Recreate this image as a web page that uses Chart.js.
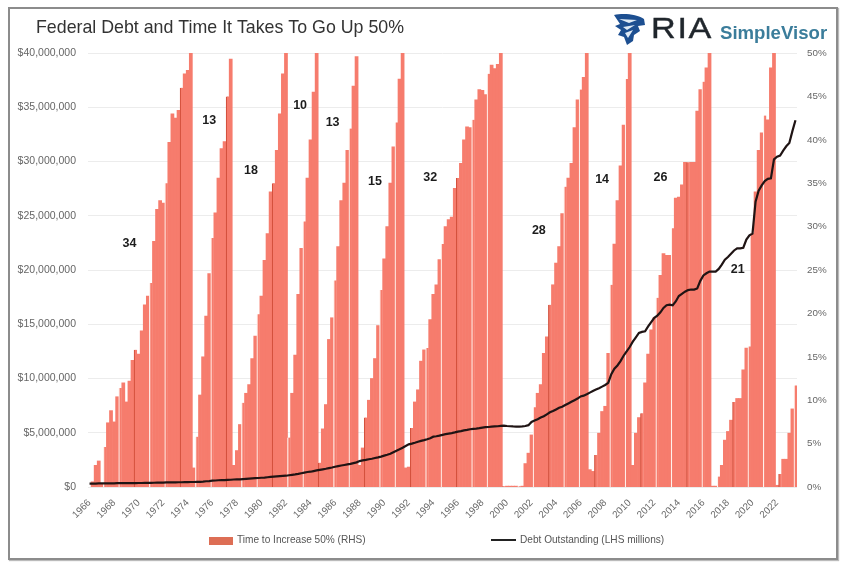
<!DOCTYPE html>
<html>
<head>
<meta charset="utf-8">
<title>Federal Debt and Time It Takes To Go Up 50%</title>
<script src="https://cdn.jsdelivr.net/npm/chart.js@4"></script>
<style>
  html, body { margin: 0; padding: 0; background: #fff; }
  #wrap { position: relative; width: 848px; height: 571px; overflow: hidden; font-family: "Liberation Sans", Arial, sans-serif; filter: blur(0.45px); }
  #frame { position: absolute; left: 8px; top: 7px; width: 826px; height: 549px; border: 2px solid #8c8c8c; box-shadow: 1px 1px 1px #bbb; }
  canvas { position: absolute; left: 0; top: 0; }
  .abs { position: absolute; white-space: nowrap; }
  #ria { left: 651px; top: 10px; font-size: 30px; line-height: 36px; color: #20262c; letter-spacing: 1.5px; -webkit-text-stroke: 0.4px #20262c; transform: scaleX(1.14); transform-origin: left center; }
  #simple { left: 720px; top: 22px; font-size: 18.6px; line-height: 22px; font-weight: bold; color: #3b7d9b; }
  .legendText { font-size: 10.1px; color: #555; line-height: 12px; }
</style>
</head>
<body>
<div id="wrap">
  <div id="frame"></div>
  <canvas id="debtChart" width="848" height="571"></canvas>
  <svg class="abs" style="left:613px;top:13px" width="33" height="33" viewBox="0 0 33 33">
    <path d="M1 2 C10 0 24 1 31 6 L32 12 L25 13 L27 18 L21 22 L20 28 L14 32 L11 24 L5 22 L8 17 L2 13 L7 11 Z" fill="#1d4f91"/>
    <path d="M6 6 L24 7 L16 10 Z M10 14 L22 12 L14 17 Z M12 20 L20 17 L15 25 Z" fill="#dfeaf5"/>
  </svg>
  <div class="abs" id="ria">RIA</div>
  <div class="abs" id="simple">SimpleVisor</div>
  <div class="abs" style="left:209px;top:537px;width:24px;height:8px;background:#dd6e55"></div>
  <div class="abs legendText" id="legendBar" style="left:237px;top:534px"></div>
  <div class="abs" style="left:491px;top:539px;width:25px;height:2px;background:#222"></div>
  <div class="abs legendText" id="legendLine" style="left:520px;top:534px"></div>
</div>
<script>
const chartTitle = "Federal Debt and Time It Takes To Go Up 50%";
const barName = "Time to Increase 50% (RHS)";
const lineName = "Debt Outstanding (LHS millions)";

// one tick label every 8 quarters
const yearTicks = ["1966", "1968", "1970", "1972", "1974", "1976", "1978", "1980", "1982", "1984",
  "1986", "1988", "1990", "1992", "1994", "1996", "1998", "2000", "2002", "2004",
  "2006", "2008", "2010", "2012", "2014", "2016", "2018", "2020", "2022"];

// % the debt has risen since the cycle started, quarterly
const timeToIncrease = [
  // 34
  0, 0.6, 2.5, 3, 0.4, 4.6, 7.4, 8.8, 7.5, 10.4, 11.4, 12, 9.8, 12.2, 14.6, 15.8, 15.3, 18,
  21, 22, 23.5, 28.3, 32, 33, 32.7, 35, 39.7, 43, 42.5, 43.4, 46, 47.6, 48, 50,
  // 13
  2.2, 5.8, 10.6, 15, 19.7, 24.6, 28.7, 31.6, 35.6, 39, 39.8, 45, 49.3,
  // 18
  2.5, 4.2, 7.2, 9.7, 10.8, 11.8, 14.8, 17.4, 19.9, 22, 26.1, 29.2, 34, 35, 38.8, 43, 47.6, 50,
  // 10
  5.7, 10.8, 15.2, 22.2, 27.5, 30.6, 35.6, 40, 45.5, 50,
  // 13
  2.8, 6.7, 9.5, 17, 19.5, 23.8, 27.7, 33, 35, 38.8, 41.3, 46.2, 49.6,
  // 15
  2.5, 4.5, 8, 10, 12.5, 14.8, 18.6, 22.7, 26.3, 30, 35, 39.2, 42, 47, 50,
  // 32
  2.2, 2.3, 6.8, 9.8, 11.2, 14.5, 15.8, 16, 19.3, 22.2, 23.3, 26.2, 28, 30, 30.8, 31.1,
  34.4, 35.6, 37.3, 40, 41.5, 41.4, 42.3, 44.6, 45.8, 45.7, 45.2, 47.6, 48.6, 48.2, 48.7, 50,
  // 28
  0.1, 0.1, 0.1, 0.1, 0.1, 0.1, 0.1, 2.7, 3.9, 6, 9.2, 10.8, 11.8, 15.4, 17.3, 21, 23.3, 25.8,
  27.7, 31.5, 34.6, 35.6, 37.3, 41.4, 44.6, 45.8, 47.2, 50,
  // 14
  2, 1.8, 3.7, 6.2, 8.7, 9.3, 15.4, 23.3, 28, 33, 37, 41.7, 47, 50,
  // 26
  2.5, 6.2, 8, 8.5, 12, 15.3, 18.1, 19.5, 21.8, 24.4, 26.9, 26.7, 26.7, 29.8, 33.3, 33.4,
  34.8, 37.4, 37.4, 37.4, 37.4, 43.3, 45.8, 46.7, 48.3, 50,
  // 21
  0.1, 0.1, 1.2, 2.5, 5.4, 6.4, 7.7, 9.8, 10.2, 10.2, 13.5, 16, 16.2, 29.2, 34, 38.8, 40.8,
  42.8, 42.3, 48.3, 50,
  // current run
  0.2, 1.5, 3.2, 3.2, 6.2, 9, 11.7
];

// debt outstanding in $ millions, one row per two years
const debtOutstanding = [
  320000, 320000, 320000, 330000, 330000, 330000, 330000, 340000,
  340000, 350000, 350000, 350000, 350000, 360000, 360000, 360000,
  370000, 370000, 380000, 380000, 380000, 390000, 400000, 400000,
  410000, 420000, 420000, 430000, 430000, 440000, 440000, 450000,
  450000, 460000, 460000, 470000, 480000, 500000, 530000, 550000,
  580000, 600000, 620000, 630000, 640000, 660000, 670000, 690000,
  700000, 710000, 730000, 750000, 770000, 790000, 810000, 830000,
  850000, 870000, 900000, 930000, 960000, 980000, 1000000, 1020000,
  1040000, 1080000, 1120000, 1160000, 1210000, 1270000, 1330000, 1380000,
  1410000, 1470000, 1530000, 1580000, 1630000, 1680000, 1740000, 1800000,
  1870000, 1930000, 1980000, 2030000, 2080000, 2130000, 2200000, 2270000,
  2390000, 2450000, 2500000, 2560000, 2600000, 2670000, 2730000, 2800000,
  2890000, 2970000, 3070000, 3210000, 3350000, 3480000, 3620000, 3780000,
  3930000, 4000000, 4080000, 4170000, 4250000, 4320000, 4400000, 4500000,
  4640000, 4680000, 4740000, 4810000, 4870000, 4920000, 4970000, 5030000,
  5100000, 5150000, 5220000, 5260000, 5320000, 5350000, 5380000, 5420000,
  5470000, 5520000, 5530000, 5560000, 5580000, 5600000, 5630000, 5660000,
  5620000, 5600000, 5580000, 5570000, 5560000, 5580000, 5620000, 5700000,
  6000000, 6130000, 6250000, 6400000, 6520000, 6700000, 6880000, 7000000,
  7150000, 7300000, 7400000, 7550000, 7700000, 7850000, 8000000, 8150000,
  8350000, 8420000, 8550000, 8700000, 8850000, 8980000, 9100000, 9250000,
  9400000, 9600000, 10400000, 10900000, 11200000, 11600000, 12100000, 12500000,
  12900000, 13400000, 13800000, 14200000, 14300000, 14350000, 14800000, 15200000,
  15600000, 15800000, 16100000, 16500000, 16750000, 16800000, 16750000, 17100000,
  17600000, 17800000, 18000000, 18150000, 18200000, 18200000, 18300000, 19000000,
  19500000, 19700000, 19850000, 19850000, 19850000, 20100000, 20500000, 20950000,
  21200000, 21500000, 21800000, 22000000, 22000000, 22050000, 22800000, 23200000,
  23350000, 26300000, 27300000, 27800000, 28200000, 28400000, 28450000, 30200000,
  30450000, 30550000, 31000000, 31400000, 31700000, 32800000, 33800000
];

// numbers written over each cycle: how many quarters it took
const cycleLabels = ["34", "13", "18", "10", "13", "15", "32", "28", "14", "26", "21"];
const cycleLabelQuarter = [13, 39, 52.6, 68.6, 79.2, 93, 111, 146.4, 167, 186, 211.2];
const cycleLabelPct = [28.1, 42.2, 36.5, 44, 42, 35.2, 35.7, 29.6, 35.4, 35.7, 25];

const quarters = timeToIncrease.map((v, i) => (i % 8 === 0 ? yearTicks[i / 8] : ""));

const fontFamily = "'Liberation Sans', Arial, sans-serif";

const cycleLabelPlugin = {
  id: "cycleLabels",
  afterDatasetsDraw(chart) {
    const ctx = chart.ctx;
    const xs = chart.scales.x;
    const ys = chart.scales.y1;
    ctx.save();
    ctx.font = "bold 12.5px " + fontFamily;
    ctx.fillStyle = "#1c1c1c";
    ctx.textAlign = "center";
    ctx.textBaseline = "middle";
    cycleLabels.forEach((text, i) => {
      ctx.fillText(text, xs.getPixelForValue(cycleLabelQuarter[i]), ys.getPixelForValue(cycleLabelPct[i]));
    });
    // title sits left of the plot, over the y tick labels
    ctx.font = "17.8px " + fontFamily;
    ctx.fillStyle = "#333";
    ctx.textAlign = "left";
    ctx.fillText(chartTitle, 36, 28);
    ctx.restore();
  },
};

const config = {
  data: {
    labels: quarters,
    datasets: [
      {
        type: "line",
        label: lineName,
        data: debtOutstanding,
        yAxisID: "y",
        borderColor: "#1f1414",
        borderWidth: 2.2,
        pointRadius: 0,
        tension: 0,
        order: 0,
      },
      {
        type: "bar",
        label: barName,
        data: timeToIncrease,
        yAxisID: "y1",
        backgroundColor: "rgb(246, 124, 109)",
        // the source image shows a thin seam about every 5th bar
        borderColor: (c) => (c.dataIndex % 15 === 0 ? "#d4513d" : "#fff1ec"),
        borderWidth: (c) => (c.dataIndex % 5 === 0 ? { left: 1.2 } : 0),
        borderSkipped: false,
        barPercentage: 1,
        categoryPercentage: 1,
        order: 1,
      },
    ],
  },
  options: {
    responsive: false,
    animation: false,
    layout: { padding: { left: 0, right: 0, top: 53, bottom: 0 } },
    plugins: {
      legend: { display: false },
      tooltip: { enabled: false },
    },
    scales: {
      x: {
        grid: { display: false },
        border: { display: false },
        ticks: {
          autoSkip: false,
          maxRotation: 45,
          minRotation: 45,
          padding: 2,
          color: "#666",
          font: { family: fontFamily, size: 9.8 },
        },
        afterFit: (scale) => { scale.height = 84; },
      },
      y: {
        position: "left",
        min: 0,
        max: 40000000,
        grid: { color: "#ececec", drawTicks: false },
        border: { display: false },
        ticks: {
          stepSize: 5000000,
          padding: 12,
          color: "#666",
          font: { family: fontFamily, size: 10.5 },
          callback: (v) => "$" + v.toLocaleString("en-US"),
        },
        afterFit: (scale) => { scale.width = 88; },
      },
      y1: {
        position: "right",
        min: 0,
        max: 50,
        grid: { display: false, drawTicks: false },
        border: { display: false },
        ticks: {
          stepSize: 5,
          padding: 10,
          color: "#666",
          font: { family: fontFamily, size: 9.8 },
          callback: (v) => v + "%",
        },
        afterFit: (scale) => { scale.width = 51; },
      },
    },
  },
  plugins: [cycleLabelPlugin],
};

document.getElementById("legendBar").textContent = barName;
document.getElementById("legendLine").textContent = lineName;
var debtChart = new Chart(document.getElementById("debtChart"), config);
</script>
</body>
</html>
